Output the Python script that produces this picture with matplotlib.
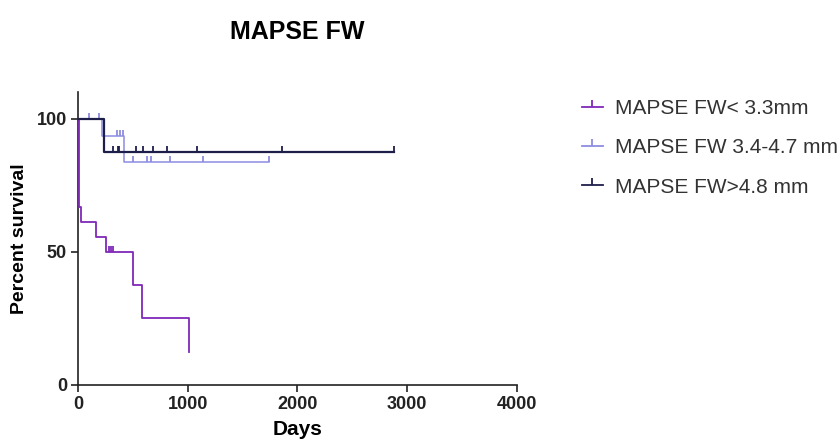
import numpy as np
import matplotlib
matplotlib.use("Agg")
import matplotlib.pyplot as plt
from matplotlib.lines import Line2D

plt.rcParams['font.family'] = ['Liberation Sans', 'DejaVu Sans']

title = "MAPSE FW"
labels = ["MAPSE FW< 3.3mm", "MAPSE FW 3.4-4.7 mm", "MAPSE FW>4.8 mm"]
colors = ["#8028b8", "#8c8ce2", "#1e1e4a"]

# Kaplan-Meier step data (days, percent survival)
g1_times = [0, 5, 25, 165, 250, 500, 580, 1010]
g1_surv = [100, 66.7, 61.1, 55.6, 50, 37.5, 25, 12.5]
g1_censor = [280, 300, 320]

g2_times = [0, 215, 421, 1745]
g2_surv = [100, 93.3, 83.6, 83.6]
g2_censor = [103, 194, 357, 382, 406, 497, 630, 661, 836, 1139, 1745]

g3_times = [0, 240, 2882]
g3_surv = [100, 87.5, 87.5]
g3_censor = [321, 366, 375, 527, 594, 685, 812, 1085, 1861, 2882]

x_ticks = [0, 1000, 2000, 3000, 4000]
y_ticks = [0, 50, 100]

fig = plt.figure(figsize=(8.4, 4.42), dpi=100)
ax = fig.add_axes([0.093, 0.129, 0.522, 0.663])

def surv_at(times, surv, t):
    idx = np.searchsorted(times, t, side='right') - 1
    return np.asarray(surv)[idx]

groups = [(g1_times, g1_surv, g1_censor),
          (g2_times, g2_surv, g2_censor),
          (g3_times, g3_surv, g3_censor)]
lws = [1.3, 1.1, 1.6]
order = [1, 2, 0]
for i in order:
    t, s, c = groups[i]
    ax.step(t, s, where='post', color=colors[i], lw=lws[i], zorder=3 + i)
    cs = surv_at(t, s, c)
    ax.plot(c, cs, linestyle='none', marker=2, markersize=4.5,
            markeredgewidth=1.3, color=colors[i], zorder=3 + i)

ax.set_xlim(0, 4000)
ax.set_ylim(0, 110)
ax.set_xticks(x_ticks)
ax.set_yticks(y_ticks)
for sp in ['top', 'right']:
    ax.spines[sp].set_visible(False)
for sp in ['left', 'bottom']:
    ax.spines[sp].set_linewidth(1.2)
    ax.spines[sp].set_color('#222222')
ax.tick_params(direction='out', length=5, width=1.2, colors='#222222',
               labelsize=13, pad=3)
for lab in ax.get_xticklabels() + ax.get_yticklabels():
    lab.set_fontweight('bold')
ax.set_xlabel("Days", fontsize=15, fontweight='bold', labelpad=5)
ax.set_ylabel("Percent survival", fontsize=14, fontweight='bold', labelpad=6)
ax.set_title(title, fontsize=18, fontweight='bold', pad=38, x=0.5)

handles = [Line2D([0], [0], color=colors[i], lw=1.3, marker=2, markersize=5,
                  markeredgewidth=1.3) for i in range(3)]
leg = fig.legend(handles, labels, loc='upper left',
                 bbox_to_anchor=(0.683, 0.795), frameon=False,
                 fontsize=15, handlelength=1.0, handletextpad=0.6,
                 labelspacing=0.98, borderaxespad=0)
for txt in leg.get_texts():
    txt.set_color('#333333')

fig.savefig("out.png", dpi=100)
